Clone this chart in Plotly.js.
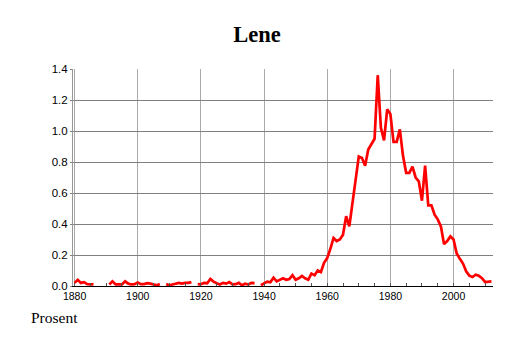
<!DOCTYPE html>
<html>
<head>
<meta charset="utf-8">
<script src="https://cdn.plot.ly/plotly-3.0.1.min.js"></script>
<style>html,body{margin:0;padding:0;background:#fff;}#chart{width:514px;height:343px;}</style>
</head>
<body>
<div id="chart"></div>
<script>
const years = [1880,1881,1882,1883,1884,1885,1886,1887,1888,1889,1890,
1891,1892,1893,1894,1895,1896,1897,1898,1899,1900,
1901,1902,1903,1904,1905,1906,1907,1908,1909,1910,
1911,1912,1913,1914,1915,1916,1917,1918,1919,1920,
1921,1922,1923,1924,1925,1926,1927,1928,1929,1930,
1931,1932,1933,1934,1935,1936,1937,1938,1939,1940,
1941,1942,1943,1944,1945,1946,1947,1948,1949,1950,
1951,1952,1953,1954,1955,1956,1957,1958,1959,1960,
1961,1962,1963,1964,1965,1966,1967,1968,1969,1970,
1971,1972,1973,1974,1975,1976,1977,1978,1979,1980,
1981,1982,1983,1984,1985,1986,1987,1988,1989,1990,
1991,1992,1993,1994,1995,1996,1997,1998,1999,2000,
2001,2002,2003,2004,2005,2006,2007,2008,2009,2010,
2011,2012];
const percent = [0.02,0.04,0.02,0.025,0.012,0.012,0.01,null,null,null,null,
0.01,0.03,0.01,0.012,0.01,0.03,0.015,0.01,0.012,0.022,
0.012,0.012,0.018,0.015,0.012,0.005,0.012,null,0.012,0.005,
0.01,0.015,0.02,0.015,0.02,0.02,0.025,null,0.01,0.012,
0.02,0.018,0.045,0.028,0.018,0.01,0.02,0.015,0.025,0.01,
0.012,0.02,0.005,0.015,0.01,0.02,0.018,null,0.005,0.015,
0.028,0.024,0.054,0.03,0.04,0.05,0.04,0.045,0.07,0.04,
0.05,0.065,0.05,0.04,0.08,0.07,0.10,0.09,0.15,0.18,
0.24,0.31,0.29,0.30,0.33,0.45,0.385,0.535,0.68,0.836,
0.826,0.776,0.88,0.92,0.95,1.36,1.02,0.94,1.14,1.11,
0.93,0.93,1.01,0.84,0.73,0.73,0.77,0.70,0.675,0.55,
0.776,0.52,0.52,0.46,0.43,0.385,0.27,0.29,0.32,0.30,
0.21,0.175,0.145,0.095,0.067,0.058,0.073,0.067,0.05,0.026,
0.03,0.03];
const xTicks = [1880,1900,1920,1940,1960,1980,2000];
const yTicks = [0,0.2,0.4,0.6,0.8,1.0,1.2,1.4];
const yTickText = ["0.0","0.2","0.4","0.6","0.8","1.0","1.2","1.4"];

const trace = {
  x: years, y: percent, type: 'scatter', mode: 'lines',
  line: {color: '#ff0000', width: 2.7},
  connectgaps: false, hoverinfo: 'skip'
};
const layout = {
  width: 514, height: 343,
  margin: {l: 73, r: 21, t: 69, b: 57},
  paper_bgcolor: '#ffffff', plot_bgcolor: '#ffffff',
  showlegend: false,
  font: {family: 'Liberation Sans, Arial, sans-serif', size: 11, color: '#000'},
  title: {text: '<b>Lene</b>', x: 0.5, xref: 'container', xanchor: 'center',
          y: 0.9, yref: 'container', yanchor: 'middle',
          font: {family: 'Liberation Serif, serif', size: 22.5, color: '#000'}},
  xaxis: {
    range: [1879.5, 2012.5], tickvals: xTicks, ticktext: xTicks.map(String),
    showgrid: true, gridcolor: '#aaaaaa', gridwidth: 1,
    showline: true, linecolor: '#000', linewidth: 1,
    ticks: 'inside', ticklen: 3, tickcolor: '#555',
    minor: {dtick: 5, tick0: 1880, ticks: 'inside', ticklen: 3, tickcolor: '#555', showgrid: false},
    zeroline: false, tickfont: {size: 10.5}
  },
  yaxis: {
    range: [0, 1.4], tickvals: yTicks, ticktext: yTickText,
    showgrid: true, gridcolor: '#808080', gridwidth: 1,
    showline: true, linecolor: '#999', linewidth: 1,
    ticks: 'outside', ticklen: 2, tickcolor: '#808080',
    zeroline: false, tickfont: {size: 11.5}
  },
  annotations: [{
    text: 'Prosent', xref: 'paper', yref: 'paper',
    x: -0.104, y: -0.147, xanchor: 'left', yanchor: 'middle',
    showarrow: false, font: {family: 'Liberation Serif, serif', size: 15.5, color: '#000'}
  }]
};
Plotly.newPlot('chart', [trace], layout, {staticPlot: true, displayModeBar: false});
</script>
</body>
</html>
